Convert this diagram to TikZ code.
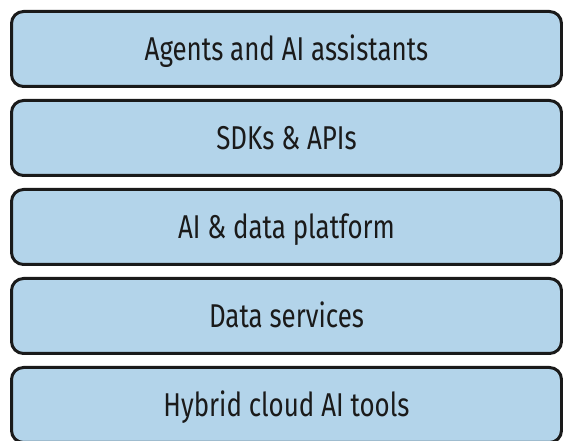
\documentclass[tikz,border=0pt]{standalone}
\usepackage{fontspec}
\setmainfont{Fira Sans}[FakeStretch=0.785]
\usetikzlibrary{positioning}

\definecolor{layerblue}{RGB}{179,212,234}
\definecolor{layerink}{RGB}{26,26,26}

\begin{document}
\begin{tikzpicture}[x=1pt,y=1pt,
    layer/.style={draw=layerink, line width=3pt, fill=layerblue,
      rounded corners=12pt, minimum width=550pt, minimum height=75pt,
      text=layerink, text height=23pt, text depth=0pt,
      font=\fontsize{33}{40}\selectfont},
    node distance=11pt]
      \clip (0,0) rectangle (563,441);
      \node[layer] (agents) at (286.5,392) {Agents and AI assistants};
      \node[layer, below=of agents] (sdks) {SDKs \& APIs};
      \node[layer, below=of sdks] (platform) {AI \& data platform};
      \node[layer, below=of platform] (services) {Data services};
      \node[layer, below=of services] (hybrid) {Hybrid cloud AI tools};
\end{tikzpicture}
\end{document}
